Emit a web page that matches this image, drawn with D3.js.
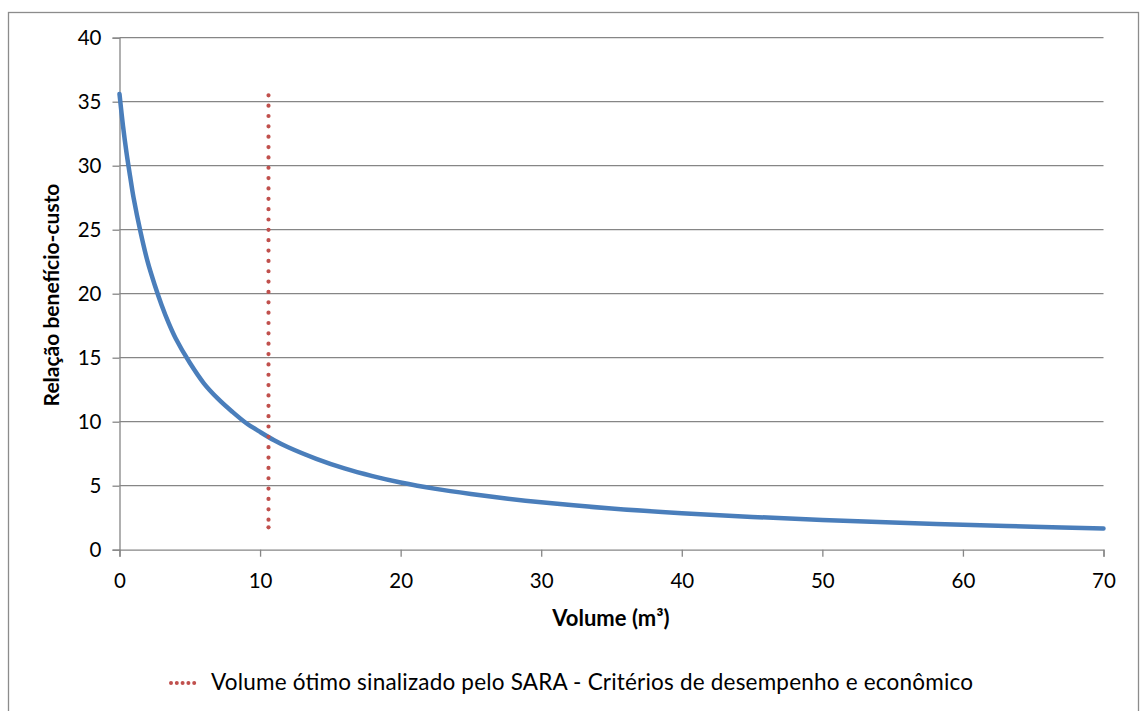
<!DOCTYPE html>
<html>
<head>
<meta charset="utf-8">
<script src="https://cdn.jsdelivr.net/npm/d3@7"></script>
<style>
  body { margin: 0; background: #fff; }
  svg { display: block; font-family: Lato, "Open Sans", sans-serif; }
</style>
</head>
<body>
<script>
// volume (m³) and benefit-cost ratio
const volumes = [0, 0.25, 0.5, 0.75, 1, 1.5, 2, 2.5, 3, 3.5, 4, 5, 6, 7, 8, 9, 10, 11, 12, 14, 16, 18, 20, 22.5, 25, 27.5, 30, 35, 40, 45, 50, 55, 60, 65, 70];
const ratios  = [35.6, 33.1, 31.0, 29.2, 27.5, 24.8, 22.5, 20.7, 19.1, 17.7, 16.5, 14.6, 13.0, 11.8, 10.8, 9.9, 9.2, 8.55, 8.0, 7.1, 6.35, 5.75, 5.25, 4.75, 4.35, 4.0, 3.7, 3.22, 2.85, 2.56, 2.32, 2.12, 1.95, 1.8, 1.66];

// optimum volume marker (vertical dotted line)
const optVolume = 10.6;
const optRange = [1.75, 35.5];

const xTicks = [0, 10, 20, 30, 40, 50, 60, 70];
const yTicks = [0, 5, 10, 15, 20, 25, 30, 35, 40];

const xTitle = "Volume (m³)";
const yTitle = "Relação benefício-custo";
const legendLabel = "Volume ótimo sinalizado pelo SARA - Critérios de desempenho e econômico";

function drawChart() {
  var w = 1141, h = 711;
  var left = 119.5, right = 1103.5, top = 37.7, bottom = 549.7;
  var red = "#c0504d";

  var svg = d3.select("body").append("svg")
      .attr("width", w)
      .attr("height", h);

  // outer frame
  svg.append("rect")
     .attr("x", 8.5).attr("y", 12.5)
     .attr("width", 1130).attr("height", 720)
     .attr("fill", "none")
     .attr("stroke", "#8c8c8c")
     .attr("stroke-width", 1.3);

  var x = d3.scaleLinear().domain([0, 70]).range([left, right]);
  var y = d3.scaleLinear().domain([0, 40]).range([bottom, top]);

  // horizontal gridlines
  svg.append("g")
     .selectAll("line")
     .data(yTicks.filter(d => d > 0))
     .enter()
     .append("line")
     .attr("x1", left).attr("x2", right)
     .attr("y1", d => y(d)).attr("y2", d => y(d))
     .attr("stroke", "#868686")
     .attr("stroke-width", 1.3);

  // y axis
  var yAxis = d3.axisLeft(y).tickValues(yTicks).tickSize(7).tickPadding(11);
  var gy = svg.append("g")
     .attr("transform", "translate(" + left + ",0)")
     .call(yAxis);

  // x axis
  var xAxis = d3.axisBottom(x).tickValues(xTicks).tickSize(7).tickPadding(17);
  var gx = svg.append("g")
     .attr("transform", "translate(0," + bottom + ")")
     .call(xAxis);

  [gx, gy].forEach(g => {
    g.select(".domain").attr("stroke", "#868686").attr("stroke-width", 1.3);
    g.selectAll(".tick line").attr("stroke", "#868686").attr("stroke-width", 1.3);
    g.selectAll("text")
     .attr("fill", "#000")
     .style("font-family", "Lato, 'Open Sans', sans-serif")
     .style("font-size", "20.5px");
  });

  // curve
  var line = d3.line()
      .x((d, i) => x(volumes[i]))
      .y(d => y(d))
      .curve(d3.curveCatmullRom.alpha(0.5));

  svg.append("path")
     .datum(ratios)
     .attr("d", line)
     .attr("fill", "none")
     .attr("stroke", "#4a7ebb")
     .attr("stroke-width", 4.5)
     .attr("stroke-linecap", "round");

  // optimum marker
  svg.append("line")
     .attr("x1", x(optVolume)).attr("x2", x(optVolume))
     .attr("y1", y(optRange[1])).attr("y2", y(optRange[0]))
     .attr("stroke", red)
     .attr("stroke-width", 4.2)
     .attr("stroke-linecap", "round")
     .attr("stroke-dasharray", "0 10.35");
  svg.append("circle")
     .attr("cx", x(optVolume)).attr("cy", y(optRange[0]))
     .attr("r", 2.1)
     .attr("fill", red);

  // axis titles
  svg.append("text")
     .attr("x", 611).attr("y", 626)
     .attr("text-anchor", "middle")
     .attr("font-weight", "bold")
     .attr("font-size", "22px")
     .text(xTitle);

  svg.append("text")
     .attr("transform", "translate(59,295) rotate(-90)")
     .attr("text-anchor", "middle")
     .attr("font-weight", "bold")
     .attr("font-size", "21px")
     .text(yTitle);

  // legend
  svg.append("line")
     .attr("x1", 171).attr("x2", 200)
     .attr("y1", 683).attr("y2", 683)
     .attr("stroke", red)
     .attr("stroke-width", 4)
     .attr("stroke-linecap", "round")
     .attr("stroke-dasharray", "0 5.8");

  svg.append("text")
     .attr("x", 211).attr("y", 690)
     .attr("font-size", "22.5px")
     .attr("textLength", 762)
     .attr("lengthAdjust", "spacing")
     .text(legendLabel);
}

window.onload = function() {
  drawChart();
};
</script>
</body>
</html>
